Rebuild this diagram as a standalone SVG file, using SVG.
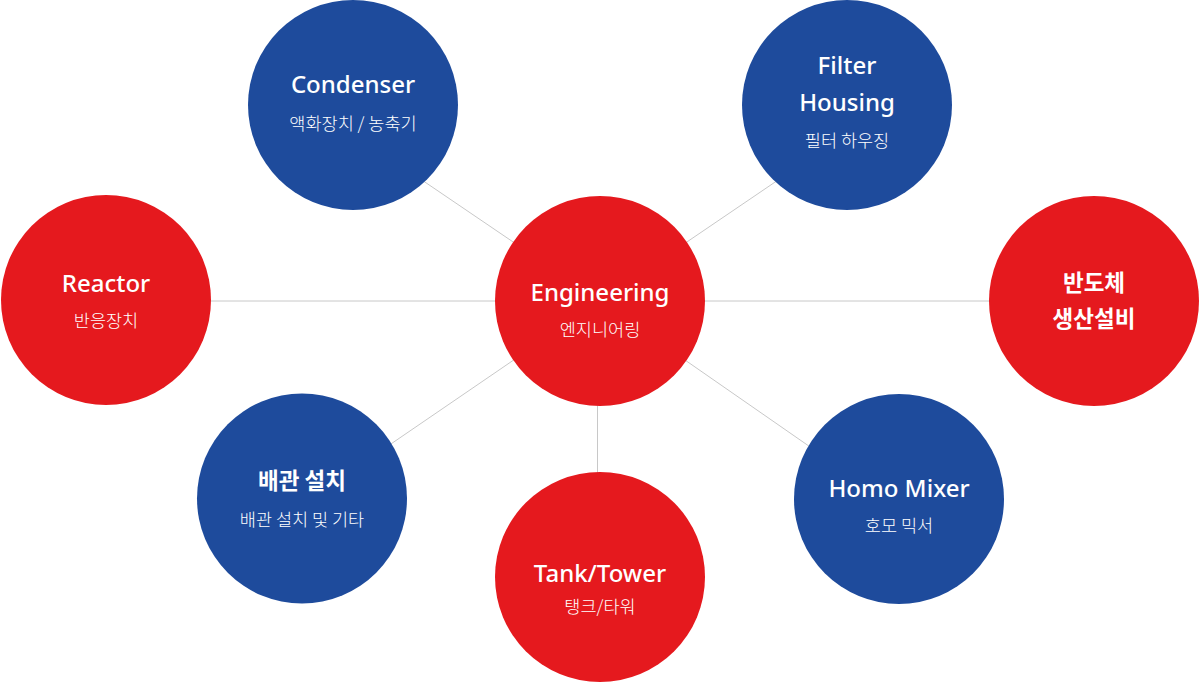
<svg xmlns="http://www.w3.org/2000/svg" width="1200" height="682" viewBox="0 0 1200 682">
  <style>
    .red { fill: #E5191E; }
    .blue { fill: #1E4B9C; }
    .conn line { stroke: #C8C8C8; stroke-width: 1; }
    text { fill: #FFFFFF; text-anchor: middle; font-family: "Noto Sans", "Noto Sans CJK KR", sans-serif; }
    .t { font-size: 24px; font-weight: 500; }
    .tk { font-size: 22.5px; font-weight: 700; font-family: "Noto Sans CJK KR", sans-serif; }
    .s { font-size: 17.5px; font-weight: 300; font-family: "Noto Sans CJK KR", sans-serif; }
  </style>
  <rect width="1200" height="682" fill="#FFFFFF"/>
  <g id="connectors" class="conn">
    <line x1="106" y1="301" x2="1094" y2="301"/>
    <line x1="597.5" y1="301" x2="597.5" y2="577"/>
    <line x1="600" y1="301" x2="416" y2="176"/>
    <line x1="600" y1="301" x2="784" y2="176"/>
    <line x1="600" y1="301" x2="385" y2="448"/>
    <line x1="600" y1="301" x2="816" y2="451"/>
  </g>
  <g id="condenser">
    <circle class="blue" cx="353" cy="105" r="105"/>
    <text class="t" x="353" y="93">Condenser</text>
    <text class="s" x="353" y="130">액화장치 / 농축기</text>
  </g>
  <g id="filter-housing">
    <circle class="blue" cx="847" cy="105" r="105"/>
    <text class="t" x="847" y="74">Filter</text>
    <text class="t" x="847" y="111">Housing</text>
    <text class="s" x="847" y="147">필터 하우징</text>
  </g>
  <g id="reactor">
    <circle class="red" cx="106" cy="300" r="105"/>
    <text class="t" x="106" y="292">Reactor</text>
    <text class="s" x="106" y="327">반응장치</text>
  </g>
  <g id="engineering">
    <circle class="red" cx="600" cy="301" r="105"/>
    <text class="t" x="600" y="301">Engineering</text>
    <text class="s" x="600" y="336">엔지니어링</text>
  </g>
  <g id="semiconductor">
    <circle class="red" cx="1094" cy="301" r="105"/>
    <text class="tk" x="1094" y="291">반도체</text>
    <text class="tk" x="1094" y="327">생산설비</text>
  </g>
  <g id="piping">
    <circle class="blue" cx="302" cy="498.5" r="105"/>
    <text class="tk" x="302" y="489">배관 설치</text>
    <text class="s" x="302" y="526">배관 설치 및 기타</text>
  </g>
  <g id="tank-tower">
    <circle class="red" cx="600" cy="577" r="105"/>
    <text class="t" x="600" y="582">Tank/Tower</text>
    <text class="s" x="600" y="613">탱크/타워</text>
  </g>
  <g id="homo-mixer">
    <circle class="blue" cx="899" cy="499" r="105"/>
    <text class="t" x="899" y="497">Homo Mixer</text>
    <text class="s" x="899" y="532">호모 믹서</text>
  </g>
</svg>
